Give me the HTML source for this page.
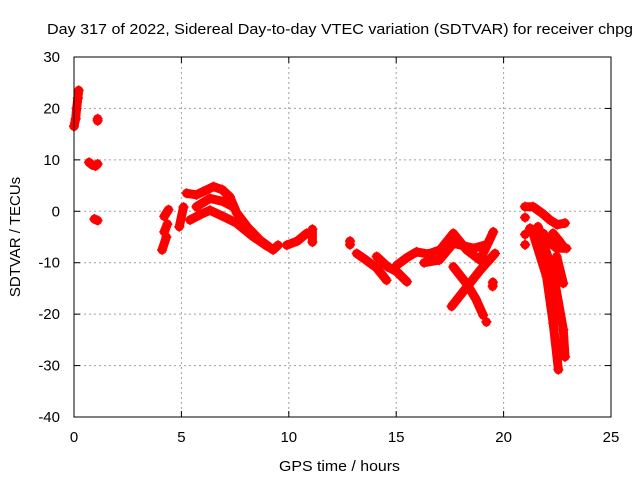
<!DOCTYPE html>
<html><head><meta charset="utf-8"><style>
body{margin:0;background:#fff}
svg{display:block;font-family:"Liberation Sans",sans-serif}
</style></head><body>
<svg id="chart" width="640" height="480" viewBox="0 0 640 480">
<rect width="640" height="480" fill="#fff"/>
<text x="47" y="34" font-size="15" textLength="586" lengthAdjust="spacingAndGlyphs">Day 317 of 2022, Sidereal Day-to-day VTEC variation (SDTVAR) for receiver chpg</text>
<g id="grid"></g>
<g id="axes"></g>
<g id="marks"></g>
<rect x="74" y="57" width="537" height="360" fill="none" stroke="#000" stroke-width="1"/>
<text x="279" y="471" font-size="15" textLength="121" lengthAdjust="spacingAndGlyphs">GPS time / hours</text>
<text transform="translate(20,237) rotate(-90)" font-size="15" text-anchor="middle">SDTVAR / TECUs</text>
</svg>
<script>
const xTicks = [0, 5, 10, 15, 20, 25];
const yTicks = [30, 20, 10, 0, -10, -20, -30, -40];
const tracks = [
 [[0,16.5],[0.08,18],[0.12,20],[0.18,22],[0.22,23.5]],
 [[0.7,9.5],[0.85,9],[1.0,8.8],[1.1,9.2]],
 [[1.1,18],[1.1,17.6]],
 [[0.95,-1.5],[1.1,-1.8]],
 [[4.1,-7.5],[4.3,-5]],
 [[4.2,-4],[4.35,-2.5]],
 [[4.2,-1],[4.4,0.3]],
 [[4.9,-3],[5.1,0.8]],
 [[5.24,3.5],[5.7,3.2],[6.0,3.8],[6.5,4.8],[6.9,4.2],[7.26,2.8],[7.57,-0.3],[8.1,-3.2],[8.66,-5.6],[9.27,-7.5],[9.5,-6.6]],
 [[5.4,-1.7],[5.9,-0.6],[6.33,0.2],[6.94,-1.0],[7.57,-2.3],[8.3,-4.8],[9.0,-6.8]],
 [[5.7,0.9],[6.33,2.5],[6.94,1.9],[7.4,0.9]],
 [[9.9,-6.6],[10.4,-5.8],[10.83,-4.3]],
 [[11.1,-3.5],[11.1,-6]],
 [[12.85,-6.5],[12.85,-5.8]],
 [[13.16,-8.2],[13.6,-9.5],[14.09,-11],[14.55,-13.4]],
 [[14.09,-8.8],[14.6,-10.8],[15.02,-11.7],[15.5,-13.7]],
 [[15.02,-10.5],[15.5,-9],[15.95,-7.9],[16.5,-8.3],[17.04,-7.5],[17.66,-4.3],[18.28,-7.5],[18.9,-9.5],[19.52,-4.0]],
 [[16.3,-10],[17.0,-9.5],[17.66,-6.2],[18.6,-7.2],[19.2,-6.5]],
 [[17.58,-18.5],[18.2,-15.2],[18.9,-11.5],[19.6,-8.2]],
 [[17.66,-10.8],[18.3,-14.2],[18.7,-17],[19.05,-20.2]],
 [[19.2,-21.5],[19.2,-21.5]],
 [[19.49,-14.6],[19.5,-13.8]],
 [[20.99,0.9],[21.37,0.9],[21.8,-0.4],[22.16,-1.7],[22.5,-2.6],[22.86,-2.3]],
 [[21.23,-3.3],[21.85,-4.3],[22.2,-6.2],[22.47,-7.2],[22.93,-7.2]],
 [[22.3,-4.3],[22.6,-5.8],[22.75,-6.7]],
 [[21.37,-4.3],[22.0,-12.7],[22.31,-21.8],[22.55,-30.8]],
 [[21.6,-3.0],[22.31,-12],[22.78,-23],[22.86,-28.3]],
 [[22.47,-8.8],[22.78,-14]],
 [[21.0,-1.2],[21.0,-1.2]],
 [[21.0,-4.5],[21.0,-4.5]],
 [[21.0,-6.5],[21.0,-6.5]]
];
const NS = "http://www.w3.org/2000/svg";
const X0 = 74, X1 = 611, Y0 = 417, Y1 = 57;
function xs(h){ return X0 + (h - 0) / 25 * (X1 - X0); }
function ys(v){ return Y0 - (v + 40) / 70 * (Y0 - Y1); }
const grid = document.getElementById('grid');
const axes = document.getElementById('axes');
const marks = document.getElementById('marks');
function mk(tag, attrs, parent){ const e = document.createElementNS(NS, tag); for (const k in attrs) e.setAttribute(k, attrs[k]); parent.appendChild(e); return e; }
xTicks.forEach(t => {
  const x = xs(t);
  if (t > 0 && t < 25) {
    const g = mk('line', {x1:x, x2:x, y1:Y1, y2:Y0, stroke:'#a0a0a0', 'stroke-dasharray':'2,3'}, grid);
    
    
  }
  mk('line', {x1:x, x2:x, y1:Y0, y2:Y0-6, stroke:'#000'}, axes);
  mk('line', {x1:x, x2:x, y1:Y1, y2:Y1+6, stroke:'#000'}, axes);
  const l = mk('text', {x:x, y:442, 'font-size':15, 'text-anchor':'middle'}, axes);
  l.textContent = t;
  
  
});
yTicks.forEach(t => {
  const y = ys(t);
  if (t > -40 && t < 30) {
    const g = mk('line', {x1:X0, x2:X1, y1:y, y2:y, stroke:'#a0a0a0', 'stroke-dasharray':'2,3'}, grid);
    
    
  }
  mk('line', {x1:X0, x2:X0+6, y1:y, y2:y, stroke:'#000'}, axes);
  mk('line', {x1:X1, x2:X1-6, y1:y, y2:y, stroke:'#000'}, axes);
  const l = mk('text', {x:60, y:y+5, 'font-size':15, 'text-anchor':'end'}, axes);
  l.textContent = t;
  
  
});
tracks.forEach(tr => {
  const pts = tr.map(p => xs(p[0]).toFixed(1) + ',' + ys(p[1]).toFixed(1)).join(' ');
  const pl = mk('polyline', {points:pts, fill:'none', stroke:'#f00', 'stroke-width':9, 'stroke-linecap':'round', 'stroke-linejoin':'round'}, marks);
  
  
  tr.forEach(p => {
    const x = xs(p[0]), y = ys(p[1]);
    const m = mk('path', {d:`M${x-5},${y}H${x+5}M${x},${y-5}V${y+5}`, stroke:'#f00', 'stroke-width':1.5}, marks);
    
    
  });
});
</script>
</body></html>
